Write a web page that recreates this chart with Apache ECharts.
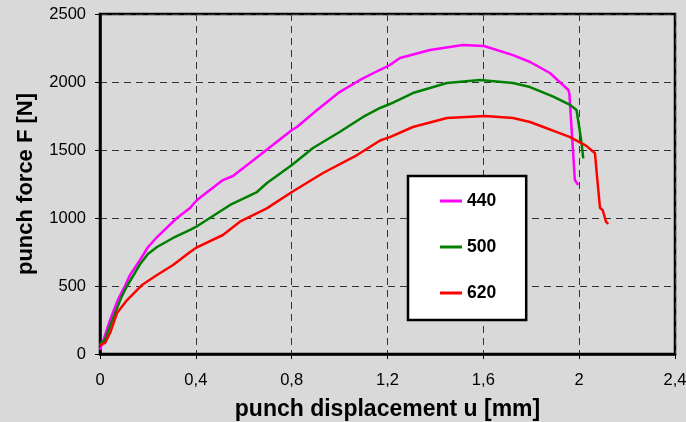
<!DOCTYPE html>
<html>
<head>
<meta charset="utf-8">
<script src="https://cdn.jsdelivr.net/npm/echarts@6/dist/echarts.min.js"></script>
<style>
  html, body { margin: 0; padding: 0; background: #d9d9d9; }
  #chart { width: 686px; height: 422px; }
</style>
</head>
<body>
<div id="chart"></div>
<script>
// punch displacement u [mm] / punch force F [N]
const x440 = [0, 0.01, 0.042, 0.075, 0.104, 0.125, 0.167, 0.2, 0.238, 0.321, 0.376, 0.405, 0.513, 0.555, 0.668, 0.801, 0.822, 0.906, 1.0, 1.085, 1.169, 1.21, 1.252, 1.377, 1.515, 1.603, 1.724, 1.795, 1.878, 1.955, 1.959, 1.982, 1.989, 1.996];
const y440 = [30, 80, 250, 400, 500, 580, 691, 785, 860, 1000, 1074, 1132, 1279, 1309, 1463, 1647, 1669, 1794, 1926, 2015, 2090, 2125, 2176, 2235, 2272, 2265, 2198, 2147, 2066, 1941, 1917, 1279, 1267, 1243];

const x500 = [0, 0.005, 0.02, 0.049, 0.09, 0.113, 0.167, 0.2, 0.238, 0.305, 0.376, 0.4, 0.543, 0.655, 0.697, 0.801, 0.889, 1.0, 1.098, 1.169, 1.21, 1.306, 1.448, 1.586, 1.724, 1.795, 1.892, 1.962, 1.989, 2.0, 2.01, 2.017];
const y500 = [60, 85, 100, 240, 420, 500, 660, 735, 787, 853, 912, 934, 1096, 1191, 1257, 1390, 1515, 1632, 1743, 1809, 1838, 1919, 1993, 2015, 1993, 1963, 1892, 1831, 1794, 1671, 1551, 1439];

const x620 = [0, 0.01, 0.021, 0.042, 0.071, 0.113, 0.175, 0.238, 0.305, 0.376, 0.4, 0.513, 0.584, 0.696, 0.801, 0.931, 1.073, 1.169, 1.21, 1.306, 1.448, 1.607, 1.724, 1.795, 1.96, 2.03, 2.066, 2.076, 2.087, 2.098, 2.112, 2.121];
const y620 = [60, 75, 81, 154, 301, 397, 507, 581, 654, 750, 780, 875, 973, 1071, 1191, 1331, 1463, 1570, 1595, 1669, 1735, 1750, 1735, 1706, 1596, 1530, 1476, 1279, 1074, 1059, 973, 956];

const seriesNames = ['440', '500', '620'];
const seriesColors = ['#ff00ff', '#008000', '#ff0000'];

const xMin = 0, xMax = 2.4, xStep = 0.4;
const yMin = 0, yMax = 2500, yStep = 500;

const font = '"Liberation Sans", Arial, sans-serif';

function pairs(xs, ys) {
  return xs.map((v, i) => [v, ys[i]]);
}

const chart = echarts.init(document.getElementById('chart'));

const option = {
  animation: false,
  backgroundColor: '#d9d9d9',
  grid: {
    left: 100, right: 11, top: 14, bottom: 68,
    outerBoundsMode: 'none',
    containLabel: false,
    show: true,
    borderColor: '#000',
    borderWidth: 2.5,
    backgroundColor: 'transparent'
  },
  legend: {
    orient: 'vertical',
    left: 408, top: 176,
    backgroundColor: '#fff',
    borderColor: '#000',
    borderWidth: 2.5,
    padding: [16, 30, 18, 32],
    itemGap: 28,
    itemWidth: 22,
    itemHeight: 3,
    icon: 'rect',
    textStyle: { fontFamily: font, fontSize: 17.5, fontWeight: 'bold', color: '#000' },
    data: seriesNames
  },
  xAxis: {
    type: 'value',
    min: xMin, max: xMax, interval: xStep,
    name: 'punch displacement u [mm]',
    nameLocation: 'middle',
    nameGap: 44,
    nameTextStyle: { fontFamily: font, fontSize: 23, fontWeight: 'bold', color: '#000' },
    axisLine: { lineStyle: { color: '#000', width: 2.5 } },
    axisTick: { length: 5, lineStyle: { color: '#000' } },
    axisLabel: {
      margin: 18,
      fontFamily: font, fontSize: 16.5, color: '#000',
      formatter: v => String(+v.toFixed(1)).replace('.', ',')
    },
    splitLine: { lineStyle: { color: '#333', type: [7, 5], width: 1 } }
  },
  yAxis: {
    type: 'value',
    min: yMin, max: yMax, interval: yStep,
    name: 'punch force F [N]',
    nameLocation: 'middle',
    nameGap: 63,
    nameTextStyle: { fontFamily: font, fontSize: 22, fontWeight: 'bold', color: '#000' },
    axisLine: { show: true, lineStyle: { color: '#000', width: 2.5 } },
    axisTick: { show: true, length: 5, lineStyle: { color: '#000' } },
    axisLabel: { margin: 14, fontFamily: font, fontSize: 16.5, color: '#000', formatter: v => String(v) },
    splitLine: { lineStyle: { color: '#333', type: [7, 5], width: 1 } }
  },
  series: [
    { name: seriesNames[0], data: pairs(x440, y440) },
    { name: seriesNames[1], data: pairs(x500, y500) },
    { name: seriesNames[2], data: pairs(x620, y620) }
  ].map((s, i) => ({
    ...s,
    type: 'line',
    showSymbol: false,
    color: seriesColors[i],
    lineStyle: { width: 2.5, color: seriesColors[i] }
  }))
};

chart.setOption(option);
</script>
</body>
</html>
